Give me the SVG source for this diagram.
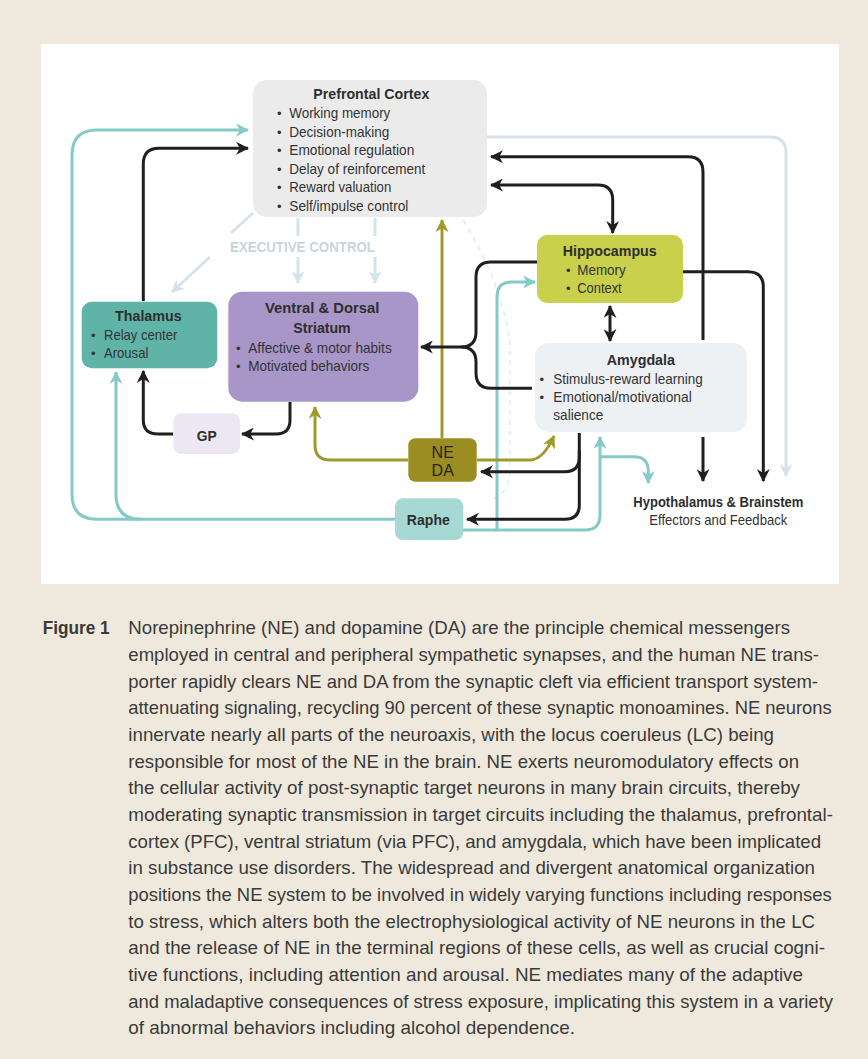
<svg xmlns="http://www.w3.org/2000/svg" width="868" height="1059" viewBox="0 0 868 1059">
<style>
.t{font-family:"Liberation Sans",Arial,sans-serif;font-size:14.5px;fill:#333}
.h{font-family:"Liberation Sans",Arial,sans-serif;font-size:15.5px;font-weight:bold;fill:#2e2e2e}
.b{font-family:"Liberation Sans",Arial,sans-serif;font-size:13px;fill:#333;text-anchor:middle}
.cap{font-family:"Liberation Sans",Arial,sans-serif;font-size:19px;fill:#3a3a3a}
.k{fill:none;stroke:#1f1f1f;stroke-width:3;stroke-linecap:butt}
.tl{fill:none;stroke:#86cac8;stroke-width:3}
.ol{fill:none;stroke:#a09a2c;stroke-width:3}
.fa{fill:none;stroke:#d6e2ea;stroke-width:3}
</style>
<defs>
<marker id="ak" viewBox="0 0 12 12" refX="11" refY="6" markerWidth="13" markerHeight="13" markerUnits="userSpaceOnUse" orient="auto-start-reverse"><path d="M0,0 L12,6 L0,12 L3.5,6 z" fill="#1f1f1f"/></marker>
<marker id="at" viewBox="0 0 12 12" refX="11" refY="6" markerWidth="13" markerHeight="13" markerUnits="userSpaceOnUse" orient="auto-start-reverse"><path d="M0,0 L12,6 L0,12 L3.5,6 z" fill="#86cac8"/></marker>
<marker id="ao" viewBox="0 0 12 12" refX="11" refY="6" markerWidth="13" markerHeight="13" markerUnits="userSpaceOnUse" orient="auto-start-reverse"><path d="M0,0 L12,6 L0,12 L3.5,6 z" fill="#a09a2c"/></marker>
<marker id="af" viewBox="0 0 12 12" refX="11" refY="6" markerWidth="13" markerHeight="13" markerUnits="userSpaceOnUse" orient="auto-start-reverse"><path d="M0,0 L12,6 L0,12 L3.5,6 z" fill="#d6e2ea"/></marker>
</defs>
<rect x="0" y="0" width="868" height="1059" fill="#efe9dd"/>
<rect x="41" y="44" width="798" height="540" fill="#ffffff"/>

<g id="connectors">
  <path class="fa" d="M253 213 L231 233"/>
  <path class="fa" d="M210 257 L172 292" marker-end="url(#af)"/>
  <path class="fa" d="M298 218 V236"/>
  <path class="fa" d="M298 257 V283" marker-end="url(#af)"/>
  <path class="fa" d="M375 218 V236"/>
  <path class="fa" d="M375 257 V283" marker-end="url(#af)"/>
  <path class="fa" d="M487 137 H770 Q786 137 786 153 V476" marker-end="url(#af)"/>
  <path d="M463 220 Q500 280 510 340 V470 Q510 495 488 500" fill="none" stroke="#e6eef3" stroke-width="2" stroke-dasharray="5 5"/>
  <path class="tl" d="M395 519.3 H97 Q72 519.3 72 494 V155 Q72 130 97 130 H248" marker-end="url(#at)"/>
  <path class="tl" d="M141 519.3 Q116 519.3 116 494 V372" marker-end="url(#at)"/>
  <path class="tl" d="M463 530 H585 Q600 530 600 515 V437" marker-end="url(#at)"/>
  <path class="tl" d="M600 456.7 H634 Q648.3 456.7 648.3 471 V483" marker-end="url(#at)"/>
  <path class="tl" d="M497 530 V297 Q497 282 512 282 H535" marker-end="url(#at)"/>
  <path class="ol" d="M442 438 V220" marker-end="url(#ao)"/>
  <path class="ol" d="M408 460 H330 Q315 460 315 445 V407" marker-end="url(#ao)"/>
  <path class="ol" d="M477 460 H530 Q543 460 554 436" marker-end="url(#ao)"/>
  <path class="k" d="M143.3 301 V164 Q143.3 148.3 159 148.3 H248" marker-end="url(#ak)"/>
  <path class="k" d="M290 402 V420 Q290 434 276 434 H242" marker-end="url(#ak)"/>
  <path class="k" d="M173 434 H158 Q143.3 434 143.3 420 V371" marker-end="url(#ak)"/>
  <path class="k" d="M703 340 V172 Q703 156.7 688 156.7 H491" marker-end="url(#ak)"/>
  <path class="k" d="M491 185 H598 Q612.7 185 612.7 200 V233" marker-start="url(#ak)" marker-end="url(#ak)"/>
  <path class="k" d="M610 306 V341" marker-start="url(#ak)" marker-end="url(#ak)"/>
  <path class="k" d="M703 437 V481" marker-end="url(#ak)"/>
  <path class="k" d="M683 271.7 H748 Q763.3 271.7 763.3 287 V481" marker-end="url(#ak)"/>
  <path class="k" d="M537 262 H491 Q476 262 476 277 V332 Q476 347 461 347 H421" marker-end="url(#ak)"/>
  <path class="k" d="M532 388.3 H491 Q476 388.3 476 373 V362 Q476 347 461 347"/>
  <path class="k" d="M579.3 433 V457 Q579.3 471.7 565 471.7 H481" marker-end="url(#ak)"/>
  <path class="k" d="M579.3 450 V505 Q579.3 519.3 565 519.3 H467" marker-end="url(#ak)"/>
</g>

<g id="pfc">
  <rect x="253" y="80" width="234" height="137" rx="14" fill="#ebebeb"/>
  <text class="h" x="371.3" y="99" text-anchor="middle" textLength="116" lengthAdjust="spacingAndGlyphs">Prefrontal Cortex</text>
  <text class="b" x="279.3" y="118">•</text><text class="t" x="289.3" y="118" textLength="101" lengthAdjust="spacingAndGlyphs">Working memory</text>
  <text class="b" x="279.3" y="136.5">•</text><text class="t" x="289.3" y="136.5" textLength="100" lengthAdjust="spacingAndGlyphs">Decision-making</text>
  <text class="b" x="279.3" y="155">•</text><text class="t" x="289.3" y="155" textLength="125" lengthAdjust="spacingAndGlyphs">Emotional regulation</text>
  <text class="b" x="279.3" y="173.5">•</text><text class="t" x="289.3" y="173.5" textLength="136" lengthAdjust="spacingAndGlyphs">Delay of reinforcement</text>
  <text class="b" x="279.3" y="192">•</text><text class="t" x="289.3" y="192" textLength="102" lengthAdjust="spacingAndGlyphs">Reward valuation</text>
  <text class="b" x="279.3" y="210.5">•</text><text class="t" x="289.3" y="210.5" textLength="119" lengthAdjust="spacingAndGlyphs">Self/impulse control</text>
</g>

<g id="executive-control">
  <text x="230" y="252" textLength="145" lengthAdjust="spacingAndGlyphs" style="font-family:'Liberation Sans',Arial,sans-serif;font-size:15px;font-weight:bold;fill:#c8d5de">EXECUTIVE CONTROL</text>
</g>

<g id="hippocampus">
  <rect x="537" y="235" width="146" height="68" rx="10" fill="#c9d04b"/>
  <text class="h" x="562.7" y="256" textLength="94" lengthAdjust="spacingAndGlyphs">Hippocampus</text>
  <text class="b" x="568.3" y="275">•</text><text class="t" x="577.3" y="275" textLength="48.4" lengthAdjust="spacingAndGlyphs">Memory</text>
  <text class="b" x="568.3" y="293.3">•</text><text class="t" x="577.3" y="293.3" textLength="44.4" lengthAdjust="spacingAndGlyphs">Context</text>
</g>

<g id="amygdala">
  <rect x="535" y="343" width="212" height="89" rx="14" fill="#edf1f4"/>
  <text class="h" x="606.7" y="365" textLength="68.3" lengthAdjust="spacingAndGlyphs">Amygdala</text>
  <text class="b" x="541.7" y="384">•</text><text class="t" x="553.3" y="384" textLength="149.4" lengthAdjust="spacingAndGlyphs">Stimulus-reward learning</text>
  <text class="b" x="541.7" y="401.7">•</text><text class="t" x="553.3" y="401.7" textLength="138.4" lengthAdjust="spacingAndGlyphs">Emotional/motivational</text>
  <text class="t" x="553.3" y="420" textLength="50" lengthAdjust="spacingAndGlyphs">salience</text>
</g>

<g id="thalamus">
  <rect x="81.7" y="301.7" width="135.6" height="66.6" rx="10" fill="#5fb4a7"/>
  <text class="h" x="115" y="320.7" textLength="66.7" lengthAdjust="spacingAndGlyphs">Thalamus</text>
  <text class="b" x="93.3" y="340">•</text><text class="t" x="104" y="340" textLength="73.3" lengthAdjust="spacingAndGlyphs">Relay center</text>
  <text class="b" x="93.3" y="358.3">•</text><text class="t" x="104" y="358.3" textLength="44.3" lengthAdjust="spacingAndGlyphs">Arousal</text>
</g>

<g id="striatum">
  <rect x="228.3" y="291.7" width="190" height="110" rx="14" fill="#a996c9"/>
  <text class="h" x="265" y="313.3" textLength="114.3" lengthAdjust="spacingAndGlyphs">Ventral &amp; Dorsal</text>
  <text class="h" x="293.3" y="333.3" textLength="57.4" lengthAdjust="spacingAndGlyphs">Striatum</text>
  <text class="b" x="238.3" y="352.7">•</text><text class="t" x="248.3" y="352.7" textLength="143.4" lengthAdjust="spacingAndGlyphs">Affective &amp; motor habits</text>
  <text class="b" x="238.3" y="370.7">•</text><text class="t" x="248.3" y="370.7" textLength="121" lengthAdjust="spacingAndGlyphs">Motivated behaviors</text>
</g>

<g id="gp">
  <rect x="173.3" y="413.3" width="66.7" height="40.7" rx="8" fill="#ece7f3"/>
  <text class="h" x="206.7" y="441" text-anchor="middle" textLength="20" lengthAdjust="spacingAndGlyphs">GP</text>
</g>

<g id="ne-da">
  <rect x="408.3" y="438.3" width="68.4" height="43.4" rx="7" fill="#9b8d22"/>
  <text class="t" x="442.7" y="458.3" text-anchor="middle" style="font-size:16px;fill:#26240f">NE</text>
  <text class="t" x="442.7" y="476" text-anchor="middle" style="font-size:16px;fill:#26240f">DA</text>
</g>

<g id="raphe">
  <rect x="395" y="498.3" width="68.3" height="41.7" rx="8" fill="#a6d8d4"/>
  <text class="h" x="428.3" y="525" text-anchor="middle" textLength="43" lengthAdjust="spacingAndGlyphs">Raphe</text>
</g>

<g id="hypothalamus">
  <text class="h" x="718.3" y="506.7" text-anchor="middle" textLength="170" lengthAdjust="spacingAndGlyphs">Hypothalamus &amp; Brainstem</text>
  <text class="t" x="718.3" y="525" text-anchor="middle" textLength="138" lengthAdjust="spacingAndGlyphs">Effectors and Feedback</text>
</g>

<g id="caption">
  <text class="cap" x="42.7" y="634.3" textLength="67" lengthAdjust="spacingAndGlyphs" style="font-weight:bold">Figure 1</text>
  <text class="cap" x="128.3" y="634.3" textLength="661.7" lengthAdjust="spacingAndGlyphs">Norepinephrine (NE) and dopamine (DA) are the principle chemical messengers</text>
  <text class="cap" x="128.3" y="661" textLength="690.7" lengthAdjust="spacingAndGlyphs">employed in central and peripheral sympathetic synapses, and the human NE trans-</text>
  <text class="cap" x="128.3" y="687.7" textLength="689.7" lengthAdjust="spacingAndGlyphs">porter rapidly clears NE and DA from the synaptic cleft via efficient transport system-</text>
  <text class="cap" x="128.3" y="714.3" textLength="703.4" lengthAdjust="spacingAndGlyphs">attenuating signaling, recycling 90 percent of these synaptic monoamines. NE neurons</text>
  <text class="cap" x="128.3" y="741" textLength="645.7" lengthAdjust="spacingAndGlyphs">innervate nearly all parts of the neuroaxis, with the locus coeruleus (LC) being</text>
  <text class="cap" x="128.3" y="767.7" textLength="670.7" lengthAdjust="spacingAndGlyphs">responsible for most of the NE in the brain. NE exerts neuromodulatory effects on</text>
  <text class="cap" x="128.3" y="794.3" textLength="671.7" lengthAdjust="spacingAndGlyphs">the cellular activity of post-synaptic target neurons in many brain circuits, thereby</text>
  <text class="cap" x="128.3" y="821" textLength="704.7" lengthAdjust="spacingAndGlyphs">moderating synaptic transmission in target circuits including the thalamus, prefrontal-</text>
  <text class="cap" x="128.3" y="847.7" textLength="692.7" lengthAdjust="spacingAndGlyphs">cortex (PFC), ventral striatum (via PFC), and amygdala, which have been implicated</text>
  <text class="cap" x="128.3" y="874.3" textLength="686.7" lengthAdjust="spacingAndGlyphs">in substance use disorders. The widespread and divergent anatomical organization</text>
  <text class="cap" x="128.3" y="901" textLength="703.4" lengthAdjust="spacingAndGlyphs">positions the NE system to be involved in widely varying functions including responses</text>
  <text class="cap" x="128.3" y="927.7" textLength="686.7" lengthAdjust="spacingAndGlyphs">to stress, which alters both the electrophysiological activity of NE neurons in the LC</text>
  <text class="cap" x="128.3" y="954.3" textLength="696.7" lengthAdjust="spacingAndGlyphs">and the release of NE in the terminal regions of these cells, as well as crucial cogni-</text>
  <text class="cap" x="128.3" y="981" textLength="674.7" lengthAdjust="spacingAndGlyphs">tive functions, including attention and arousal. NE mediates many of the adaptive</text>
  <text class="cap" x="128.3" y="1007.7" textLength="704.7" lengthAdjust="spacingAndGlyphs">and maladaptive consequences of stress exposure, implicating this system in a variety</text>
  <text class="cap" x="128.3" y="1034.3" textLength="446.7" lengthAdjust="spacingAndGlyphs">of abnormal behaviors including alcohol dependence.</text>
</g>
</svg>
